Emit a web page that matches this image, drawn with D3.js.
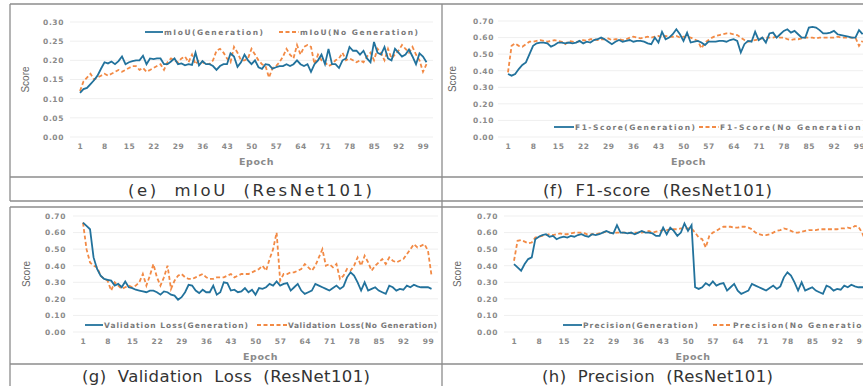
<!DOCTYPE html>
<html>
<head>
<meta charset="utf-8">
<script src="https://cdn.jsdelivr.net/npm/d3@7"></script>
<style>
  html, body { margin: 0; padding: 0; background: #fff; }
  svg { display: block; }
</style>
</head>
<body>
<div id="chart"></div>
<script>
// epoch tick labels (shared by all four panels)
const xTicks = [1, 8, 15, 22, 29, 36, 43, 50, 57, 64, 71, 78, 85, 92, 99];

// (e) mIoU
const miouGen = [0.115,0.125,0.128,0.138,0.148,0.160,0.178,0.195,0.192,0.197,
  0.190,0.198,0.210,0.190,0.195,0.198,0.200,0.200,0.212,0.190,
  0.205,0.203,0.205,0.205,0.190,0.190,0.197,0.205,0.190,0.192,
  0.187,0.190,0.188,0.220,0.187,0.198,0.190,0.190,0.185,0.175,
  0.185,0.190,0.190,0.218,0.210,0.183,0.195,0.215,0.200,0.190,
  0.200,0.182,0.178,0.190,0.188,0.178,0.182,0.185,0.185,0.190,
  0.185,0.190,0.200,0.190,0.185,0.190,0.170,0.190,0.200,0.215,
  0.190,0.230,0.190,0.190,0.180,0.200,0.205,0.235,0.225,0.225,
  0.215,0.225,0.205,0.195,0.248,0.220,0.215,0.235,0.205,0.200,
  0.230,0.220,0.210,0.215,0.228,0.210,0.190,0.218,0.210,0.195];
const miouNoGen = [0.120,0.145,0.155,0.165,0.150,0.155,0.160,0.165,0.160,0.165,
  0.170,0.175,0.170,0.175,0.180,0.185,0.185,0.175,0.180,0.170,
  0.175,0.180,0.185,0.190,0.175,0.195,0.205,0.200,0.195,0.205,
  0.210,0.195,0.215,0.190,0.200,0.195,0.190,0.190,0.200,0.225,
  0.230,0.220,0.205,0.195,0.235,0.220,0.200,0.200,0.205,0.230,
  0.215,0.200,0.190,0.185,0.155,0.180,0.185,0.195,0.210,0.230,
  0.215,0.205,0.240,0.215,0.235,0.240,0.235,0.190,0.215,0.200,
  0.195,0.185,0.190,0.200,0.205,0.220,0.200,0.205,0.200,0.195,
  0.200,0.195,0.210,0.220,0.200,0.230,0.220,0.200,0.230,0.205,
  0.215,0.225,0.240,0.230,0.220,0.235,0.215,0.200,0.170,0.190];

// (f) F1-score
const f1Gen = [0.38,0.37,0.38,0.41,0.435,0.45,0.50,0.55,0.565,0.57,
  0.57,0.565,0.545,0.555,0.57,0.57,0.565,0.57,0.565,0.57,
  0.58,0.565,0.575,0.57,0.585,0.59,0.60,0.59,0.575,0.56,
  0.575,0.585,0.575,0.58,0.585,0.575,0.58,0.58,0.575,0.565,
  0.56,0.60,0.57,0.635,0.59,0.60,0.62,0.65,0.62,0.58,
  0.63,0.57,0.575,0.58,0.57,0.555,0.575,0.575,0.575,0.58,
  0.58,0.575,0.585,0.59,0.58,0.51,0.56,0.58,0.575,0.635,
  0.585,0.60,0.57,0.625,0.63,0.60,0.62,0.64,0.65,0.63,
  0.64,0.62,0.60,0.60,0.66,0.665,0.66,0.645,0.625,0.625,
  0.63,0.64,0.62,0.615,0.61,0.605,0.60,0.60,0.645,0.62];
const f1NoGen = [0.39,0.55,0.565,0.55,0.545,0.56,0.575,0.575,0.58,0.585,
  0.58,0.575,0.58,0.585,0.58,0.575,0.56,0.58,0.575,0.57,
  0.58,0.585,0.58,0.59,0.59,0.585,0.59,0.59,0.595,0.585,
  0.59,0.59,0.585,0.59,0.60,0.605,0.60,0.595,0.60,0.605,
  0.60,0.605,0.61,0.60,0.61,0.605,0.605,0.61,0.60,0.605,
  0.605,0.60,0.59,0.58,0.535,0.57,0.585,0.60,0.61,0.615,
  0.62,0.625,0.625,0.62,0.615,0.60,0.585,0.575,0.58,0.585,
  0.59,0.595,0.60,0.60,0.60,0.605,0.60,0.60,0.59,0.585,
  0.59,0.59,0.595,0.60,0.60,0.60,0.595,0.60,0.60,0.60,
  0.60,0.60,0.605,0.60,0.60,0.60,0.60,0.60,0.55,0.58];

// (g) Validation loss
const lossGen = [0.66,0.64,0.62,0.45,0.38,0.34,0.32,0.315,0.31,0.28,
  0.29,0.27,0.305,0.27,0.265,0.255,0.25,0.245,0.24,0.25,
  0.25,0.24,0.225,0.245,0.24,0.225,0.22,0.195,0.21,0.24,
  0.285,0.28,0.25,0.235,0.255,0.24,0.24,0.28,0.225,0.24,
  0.30,0.295,0.25,0.255,0.24,0.245,0.265,0.24,0.255,0.225,
  0.265,0.26,0.27,0.29,0.28,0.305,0.28,0.29,0.295,0.25,
  0.27,0.29,0.25,0.23,0.24,0.25,0.29,0.28,0.27,0.26,
  0.25,0.265,0.28,0.26,0.275,0.33,0.36,0.34,0.30,0.25,
  0.30,0.25,0.26,0.27,0.25,0.24,0.23,0.28,0.27,0.25,
  0.26,0.255,0.28,0.27,0.285,0.275,0.27,0.27,0.27,0.26];
const lossNoGen = [0.66,0.50,0.42,0.40,0.39,0.34,0.32,0.31,0.25,0.30,
  0.28,0.26,0.27,0.28,0.27,0.28,0.30,0.35,0.28,0.34,
  0.41,0.33,0.28,0.33,0.40,0.26,0.31,0.34,0.35,0.33,
  0.32,0.32,0.33,0.34,0.35,0.33,0.32,0.32,0.33,0.33,
  0.33,0.34,0.35,0.33,0.34,0.35,0.35,0.35,0.36,0.37,
  0.38,0.40,0.37,0.44,0.50,0.60,0.31,0.35,0.35,0.36,
  0.36,0.37,0.38,0.41,0.39,0.37,0.40,0.45,0.50,0.40,
  0.41,0.39,0.41,0.32,0.34,0.38,0.37,0.40,0.45,0.40,
  0.46,0.42,0.37,0.40,0.42,0.44,0.41,0.45,0.43,0.42,
  0.43,0.44,0.47,0.50,0.53,0.51,0.52,0.53,0.49,0.34];

// (h) Precision
const precGen = [0.41,0.39,0.37,0.41,0.44,0.45,0.56,0.575,0.585,0.59,
  0.575,0.58,0.56,0.57,0.575,0.57,0.58,0.575,0.585,0.59,
  0.58,0.575,0.59,0.585,0.59,0.60,0.61,0.60,0.595,0.645,
  0.60,0.60,0.595,0.60,0.59,0.60,0.61,0.60,0.60,0.595,
  0.58,0.58,0.63,0.59,0.63,0.61,0.58,0.60,0.655,0.61,
  0.645,0.27,0.26,0.27,0.295,0.28,0.305,0.28,0.29,0.295,
  0.25,0.27,0.29,0.25,0.23,0.24,0.25,0.29,0.28,0.27,
  0.26,0.25,0.265,0.28,0.26,0.275,0.33,0.36,0.34,0.30,
  0.25,0.30,0.25,0.26,0.27,0.25,0.24,0.23,0.28,0.27,
  0.25,0.26,0.255,0.28,0.27,0.285,0.275,0.27,0.27,0.27];
const precNoGen = [0.43,0.55,0.555,0.545,0.535,0.54,0.57,0.575,0.58,0.585,
  0.59,0.585,0.59,0.595,0.59,0.59,0.595,0.60,0.60,0.60,
  0.595,0.585,0.59,0.59,0.595,0.60,0.605,0.60,0.595,0.60,
  0.60,0.60,0.60,0.595,0.60,0.60,0.60,0.605,0.61,0.60,
  0.605,0.61,0.615,0.615,0.62,0.62,0.62,0.625,0.625,0.625,
  0.625,0.60,0.57,0.56,0.51,0.58,0.60,0.61,0.625,0.635,
  0.635,0.635,0.63,0.63,0.635,0.635,0.63,0.62,0.60,0.59,
  0.585,0.585,0.59,0.60,0.61,0.615,0.625,0.62,0.61,0.60,
  0.60,0.605,0.61,0.615,0.615,0.615,0.62,0.62,0.62,0.62,
  0.62,0.62,0.625,0.625,0.63,0.625,0.64,0.635,0.60,0.55];

const W = 863, H = 386;
const BLUE = "#22729c", ORANGE = "#f28a45";
const TICK_FONT = "'DejaVu Sans', sans-serif";

const svg = d3.select("#chart").append("svg")
  .attr("width", W).attr("height", H)
  .attr("viewBox", `0 0 ${W} ${H}`);

// frame lines of the figure table
const frame = svg.append("g").attr("stroke", "#8c8c8c").attr("stroke-width", 1.3);
[[10, 4, W, 4], [10, 177, W, 177], [10, 201, W, 201], [10, 207, W, 207], [10, 364, W, 364],
 [10, 4, 10, 201], [10, 207, 10, H], [442, 4, 442, H]].forEach(l => {
  frame.append("line").attr("x1", l[0]).attr("y1", l[1]).attr("x2", l[2]).attr("y2", l[3]);
});

const panels = [
  { gen: miouGen, noGen: miouNoGen, yMax: 0.30, yStep: 0.05,
    x0: 80, x1: 423, yTop: 22, yBot: 137, labX: 64, scoreX: 29,
    caption: "(e)  mIoU  (ResNet101)", capX: 128, capW: 244, capY: 196,
    legY: 32, legend: [
      { name: "mIoU(Generation)", lx: 145, tx: 164, tw: 99 },
      { name: "mIoU(No Generation)", lx: 279, tx: 300, tw: 118 }] },
  { gen: f1Gen, noGen: f1NoGen, yMax: 0.70, yStep: 0.10,
    x0: 508, x1: 859, yTop: 21, yBot: 137, labX: 494, scoreX: 456,
    caption: "(f)  F1-score  (ResNet101)", capX: 543, capW: 229, capY: 196,
    legY: 127, legend: [
      { name: "F1-Score(Generation)", lx: 554, tx: 575, tw: 120 },
      { name: "F1-Score(No Generation)", lx: 699, tx: 720, tw: 146 }] },
  { gen: lossGen, noGen: lossNoGen, yMax: 0.70, yStep: 0.10,
    x0: 83, x1: 428, yTop: 216, yBot: 332, labX: 66, scoreX: 30,
    caption: "(g)  Validation  Loss  (ResNet101)", capX: 82, capW: 288, capY: 382,
    legY: 325, legend: [
      { name: "Validation Loss(Generation)", lx: 85, tx: 104, tw: 144 },
      { name: "Validation Loss(No Generation)", lx: 257, tx: 288, tw: 149 }] },
  { gen: precGen, noGen: precNoGen, yMax: 0.70, yStep: 0.10,
    x0: 514, x1: 862, yTop: 216, yBot: 332, labX: 498, scoreX: 461,
    caption: "(h)  Precision  (ResNet101)", capX: 542, capW: 231, capY: 382,
    legY: 325, legend: [
      { name: "Precision(Generation)", lx: 563, tx: 583, tw: 115 },
      { name: "Precision(No Generation)", lx: 713, tx: 733, tw: 140 }] }
];

panels.forEach(p => {
  const g = svg.append("g");

  const x = d3.scaleLinear().domain([1, 99]).range([p.x0, p.x1]);
  const y = d3.scaleLinear().domain([0, p.yMax]).range([p.yBot, p.yTop]);
  const yTicks = d3.range(0, p.yMax + p.yStep / 2, p.yStep);

  // faint horizontal gridlines
  g.append("g").selectAll("line").data(yTicks).join("line")
    .attr("x1", p.x0 - 10).attr("x2", p.x1 + 10)
    .attr("y1", d => y(d)).attr("y2", d => y(d))
    .attr("stroke", "#efefef").attr("stroke-width", 1);

  // y axis labels (no axis line in the original)
  const yAxis = g.append("g")
    .attr("transform", `translate(${p.labX + 4},0)`)
    .call(d3.axisLeft(y).tickValues(yTicks).tickFormat(d3.format(".2f")).tickSize(0).tickPadding(4));
  yAxis.select(".domain").remove();
  yAxis.selectAll("text")
    .attr("fill", "#8a8a8a").style("font-family", TICK_FONT)
    .style("font-size", "7.5px").style("font-weight", "bold").style("letter-spacing", "0.6px");

  // x axis labels
  const xAxis = g.append("g")
    .attr("transform", `translate(0,${p.yBot + 5})`)
    .call(d3.axisBottom(x).tickValues(xTicks).tickFormat(d3.format("d")).tickSize(0).tickPadding(2));
  xAxis.select(".domain").remove();
  xAxis.selectAll("text")
    .attr("fill", "#8a8a8a").style("font-family", TICK_FONT)
    .style("font-size", "7.5px").style("font-weight", "bold").style("letter-spacing", "0.6px");

  // axis titles
  g.append("text")
    .attr("x", (p.x0 + p.x1) / 2 + 5).attr("y", p.yBot + 28)
    .attr("text-anchor", "middle").attr("fill", "#8a8a8a")
    .style("font-family", TICK_FONT).style("font-size", "9.5px").style("font-weight", "bold")
    .style("letter-spacing", "0.6px")
    .text("Epoch");
  g.append("text")
    .attr("transform", `translate(${p.scoreX},${(p.yTop + p.yBot) / 2}) rotate(-90)`)
    .attr("text-anchor", "middle").attr("fill", "#666")
    .style("font-family", "'Liberation Sans', Arial, sans-serif").style("font-size", "10px")
    .text("Score");

  // series lines
  const line = d3.line().x((d, i) => x(i + 1)).y(d => y(d));
  g.append("path").datum(p.noGen)
    .attr("fill", "none").attr("stroke", ORANGE).attr("stroke-width", 1.8)
    .attr("stroke-dasharray", "4,2.5").attr("d", line);
  g.append("path").datum(p.gen)
    .attr("fill", "none").attr("stroke", BLUE).attr("stroke-width", 1.8)
    .attr("d", line);

  // legend
  p.legend.forEach((item, k) => {
    g.append("line")
      .attr("x1", item.lx).attr("x2", item.tx - 1)
      .attr("y1", p.legY).attr("y2", p.legY)
      .attr("stroke", k === 0 ? BLUE : ORANGE).attr("stroke-width", 1.8)
      .attr("stroke-dasharray", k === 0 ? null : "4,2.5");
    g.append("text")
      .attr("x", item.tx).attr("y", p.legY + 2.7)
      .attr("fill", "#7a7a7a")
      .attr("textLength", item.tw).attr("lengthAdjust", "spacing")
      .style("font-family", TICK_FONT).style("font-size", "7.5px").style("font-weight", "bold")
      .text(item.name);
  });

  // caption under the panel
  svg.append("text")
    .attr("x", p.capX).attr("y", p.capY)
    .attr("textLength", p.capW).attr("lengthAdjust", "spacing")
    .attr("fill", "#333")
    .style("white-space", "pre")
    .style("font-family", "'DejaVu Sans', sans-serif").style("font-size", "16.5px")
    .text(p.caption);
});
</script>
</body>
</html>
